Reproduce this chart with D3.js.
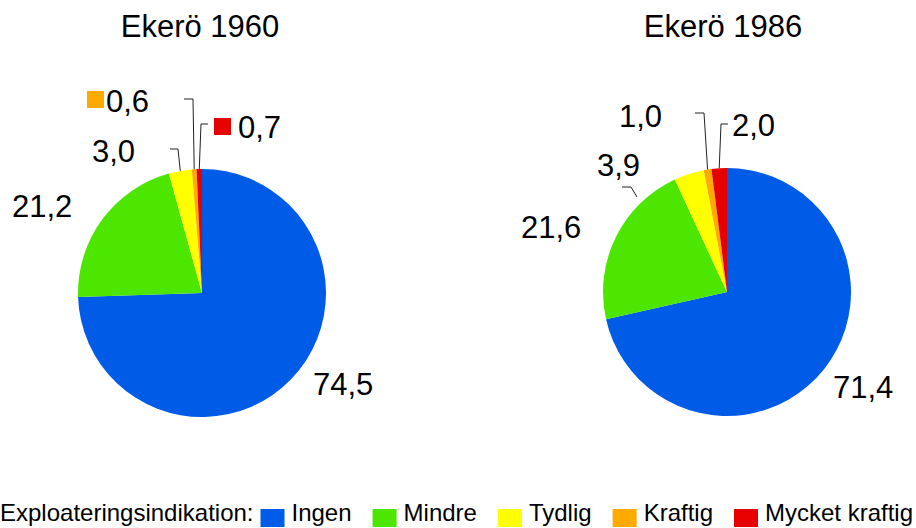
<html>
<head>
<meta charset="utf-8">
<title>Ekerö 1960 / 1986</title>
<script src="https://d3js.org/d3.v7.min.js"></script>
<style>
body { margin: 0; background: #fff; }
svg { display: block; }
</style>
</head>
<body>
<script type="text/javascript">
// data
var categories = ["Ingen", "Mindre", "Tydlig", "Kraftig", "Mycket kraftig"];
var sliceColors = ["#005ce6", "#4ce600", "#ffff00", "#ffaa00", "#e60000"];
var values1960 = [74.5, 21.2, 3.0, 0.6, 0.7];
var values1986 = [71.4, 21.6, 3.9, 1.0, 2.0];
var titles = ["Ekerö 1960", "Ekerö 1986"];
var legendTitle = "Exploateringsindikation:";

var width = 916, height = 528;
var radius = 124;
var font = "Arial, 'Liberation Sans', sans-serif";

var svg = d3.select("body")
    .append("svg")
    .attr("width", width)
    .attr("height", height);

var color = d3.scaleOrdinal().domain(categories).range(sliceColors);
var fmt = d3.formatLocale({decimal: ",", thousands: " ", grouping: [3], currency: ["", ""]}).format(".1f");

// label placement (pixels relative to the pie centre)
var layout1960 = [
    {dx: 111, dy: 102},
    {dx: -190, dy: -76},
    {dx: -110, dy: -131, leader: [[-32, -144], [-24, -144]]},
    {dx: -96, dy: -181, key: [-115, -202], leader: [[-18, -194], [-9, -194]]},
    {dx: 36, dy: -155, key: [12, -175], leader: [[6, -169], [-1, -169]]}
];
var layout1986 = [
    {dx: 106, dy: 106},
    {dx: -206, dy: -54},
    {dx: -130, dy: -116, leader: [[-105, -105], [-96, -105]], end: [-90, -95]},
    {dx: -108, dy: -165, leader: [[-32, -179], [-23, -179]]},
    {dx: 5, dy: -156, leader: [[1, -168], [-6, -168]]}
];

var pies = [
    {title: titles[0], values: values1960, cx: 202, cy: 293, titleDx: -2, labels: layout1960},
    {title: titles[1], values: values1986, cx: 727, cy: 292, titleDx: -4, labels: layout1986}
];

var pie = d3.pie().sort(null).value(function(d) { return d.value; });
var arc = d3.arc().innerRadius(0).outerRadius(radius);
var edge = d3.arc().innerRadius(radius).outerRadius(radius);

pies.forEach(function(p) {
    var rows = categories.map(function(c, i) { return {cat: c, value: p.values[i]}; });
    var arcs = pie(rows);

    var g = svg.append("g")
        .attr("transform", "translate(" + p.cx + "," + p.cy + ")");

    svg.append("text")
        .attr("x", p.cx + p.titleDx)
        .attr("y", 37)
        .attr("text-anchor", "middle")
        .style("font-family", font)
        .style("font-size", "31px")
        .style("fill", "#000")
        .text(p.title);

    g.selectAll("path.slice")
        .data(arcs)
        .enter().append("path")
        .attr("class", "slice")
        .attr("d", arc)
        .attr("fill", function(d) { return color(d.data.cat); });

    arcs.forEach(function(d, i) {
        var L = p.labels[i];
        if (L.leader) {
            var end = L.end ? L.end : edge.centroid(d);
            var pts = L.leader.concat([end]);
            g.append("path")
                .attr("d", d3.line()(pts))
                .attr("fill", "none")
                .attr("stroke", "#222")
                .attr("stroke-width", 1);
        }
        if (L.key) {
            g.append("rect")
                .attr("x", L.key[0])
                .attr("y", L.key[1])
                .attr("width", 17)
                .attr("height", 17)
                .attr("fill", color(d.data.cat));
        }
        g.append("text")
            .attr("x", L.dx)
            .attr("y", L.dy)
            .style("font-family", font)
            .style("font-size", "31px")
            .style("fill", "#000")
            .text(fmt(d.data.value));
    });
});

// legend
var legend = svg.append("g").attr("transform", "translate(0,521)");
var lt = legend.append("text")
    .attr("x", 0)
    .attr("y", 0)
    .style("font-family", font)
    .style("font-size", "24px")
    .text(legendTitle);
var lx = lt.node().getComputedTextLength() + 7;
categories.forEach(function(c, i) {
    legend.append("rect")
        .attr("x", lx)
        .attr("y", -12)
        .attr("width", 24)
        .attr("height", 18)
        .attr("fill", color(c));
    var t = legend.append("text")
        .attr("x", lx + 31)
        .attr("y", 0)
        .style("font-family", font)
        .style("font-size", "24px")
        .text(c);
    lx = lx + 31 + t.node().getComputedTextLength() + 21;
});
</script>
</body>
</html>
